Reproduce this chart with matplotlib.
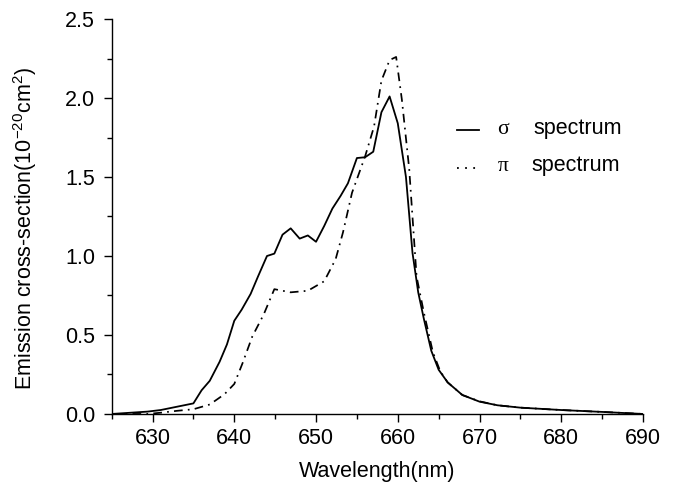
import numpy as np
import matplotlib
matplotlib.use("Agg")
import matplotlib.pyplot as plt
from matplotlib.ticker import MultipleLocator, FormatStrFormatter

plt.rcParams['font.family'] = ['Liberation Sans', 'DejaVu Sans']
plt.rcParams['mathtext.fontset'] = 'custom'
plt.rcParams['mathtext.rm'] = 'Liberation Sans'

FS = 15.5

# sigma spectrum (solid)
sigma_wl = [625, 629.4, 631, 633, 635, 636, 637, 638.2, 639.1, 640, 640.9, 642,
            642.9, 644, 644.9, 645.9, 646.9, 648, 649, 650, 651, 652, 653, 653.9,
            655, 656, 657, 658, 659, 660, 661, 661.8, 662.5, 663.2, 664.1, 665,
            666.1, 667.9, 670, 672.2, 675, 680, 685, 690]
sigma_cs = [0.0, 0.015, 0.025, 0.046, 0.067, 0.15, 0.21, 0.33, 0.44, 0.59, 0.66, 0.76,
            0.87, 1.0, 1.015, 1.135, 1.175, 1.11, 1.13, 1.09, 1.19, 1.30, 1.38, 1.46,
            1.62, 1.625, 1.66, 1.91, 2.01, 1.84, 1.50, 1.02, 0.77, 0.60, 0.40, 0.28,
            0.20, 0.12, 0.078, 0.055, 0.04, 0.025, 0.013, 0.0]

# pi spectrum (dash-dot)
pi_wl = [625, 629.4, 631, 633, 635, 637, 638.8, 640, 641, 642.2, 643.6, 644.9,
         646.9, 649, 651, 652.4, 653.3, 654.4, 656, 657.1, 658, 659, 659.8, 660.5,
         661.4, 662.3, 663.2, 664.3, 665.2, 666.1, 667.9, 670, 672.2, 675, 680, 685, 690]
pi_cs = [0.0, 0.0, 0.008, 0.02, 0.03, 0.06, 0.125, 0.19, 0.32, 0.49, 0.63, 0.79,
         0.77, 0.78, 0.84, 0.98, 1.15, 1.40, 1.63, 1.82, 2.11, 2.24, 2.26, 1.99,
         1.55, 0.87, 0.64, 0.39, 0.27, 0.20, 0.12, 0.08, 0.055, 0.04, 0.025, 0.013, 0.0]

fig = plt.figure(figsize=(6.78, 4.94), dpi=100)
ax = fig.add_axes([0.1647, 0.162, 0.9484 - 0.1647, 0.9615 - 0.162])

ax.plot(sigma_wl, sigma_cs, color='black', lw=1.3)
ax.plot(pi_wl, pi_cs, color='black', lw=1.25, linestyle=(0, (5, 3, 1, 3)))

ax.set_xlim(625, 690)
ax.set_ylim(0, 2.5)
ax.set_xticks(range(630, 691, 10))
ax.xaxis.set_minor_locator(MultipleLocator(5))
ax.yaxis.set_major_locator(MultipleLocator(0.5))
ax.yaxis.set_minor_locator(MultipleLocator(0.25))
ax.yaxis.set_major_formatter(FormatStrFormatter('%.1f'))

for s in ['top', 'right']:
    ax.spines[s].set_visible(False)
for s in ['left', 'bottom']:
    ax.spines[s].set_linewidth(1.0)
ax.tick_params(which='major', direction='out', length=6, width=1, labelsize=FS)
ax.tick_params(axis='x', which='major', pad=4)
ax.tick_params(axis='y', which='major', pad=6)
ax.tick_params(which='minor', direction='out', length=3.5, width=1)

ax.set_xlabel('Wavelength(nm)', fontsize=FS, labelpad=9)
ax.set_ylabel('Emission cross-section(10$^{-20}$cm$^2$)', fontsize=FS)
ax.yaxis.set_label_coords(-0.137, 0.47)

# manual legend
ax.plot([667.2, 669.9], [1.80, 1.80], color='black', lw=1.3)
ax.text(672.9, 1.80, '\u03c3', fontsize=FS, family='Liberation Serif', ha='center', va='center')
ax.text(676.6, 1.81, 'spectrum', fontsize=FS, va='center')
ax.plot([667.2, 669.9], [1.555, 1.555], color='black', lw=1.3, linestyle=(0, (1, 3.5)))
ax.text(672.9, 1.565, '\u03c0', fontsize=FS, family='Liberation Serif', ha='center', va='center')
ax.text(676.3, 1.575, 'spectrum', fontsize=FS, va='center')

fig.savefig('out.png', dpi=100)
